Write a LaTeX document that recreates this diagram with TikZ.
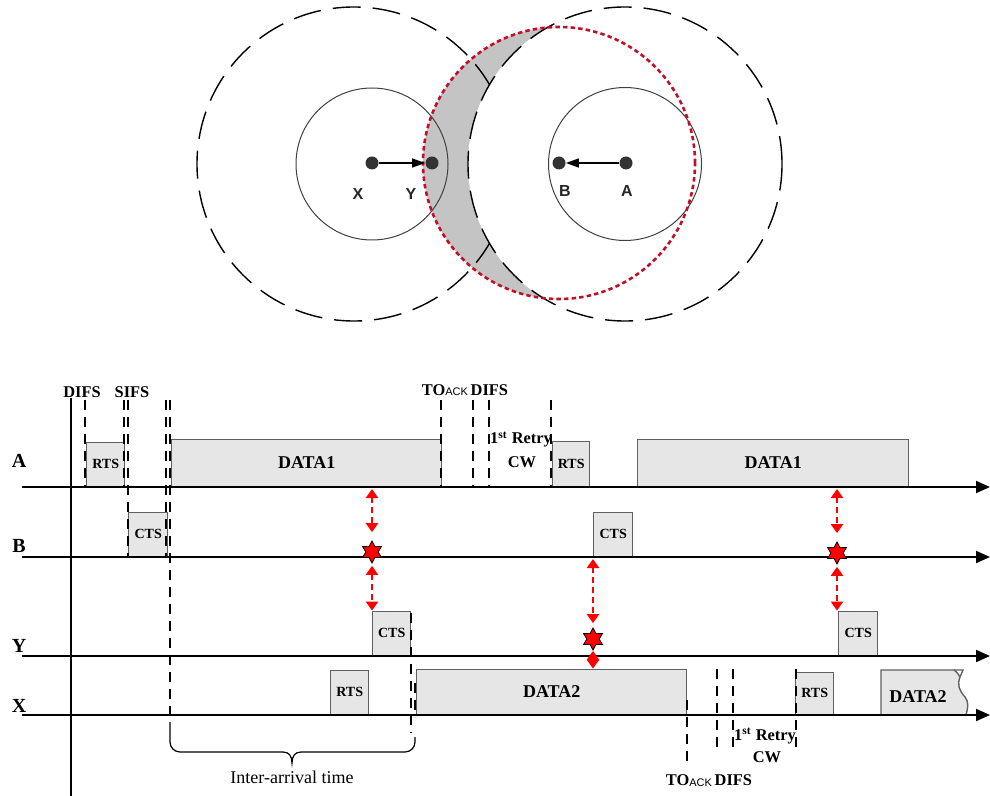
\documentclass[tikz,border=0pt]{standalone}
\usepackage{fontspec}
\setmainfont{Liberation Serif}
\setsansfont{Liberation Sans}
\usetikzlibrary{arrows.meta,shapes.geometric,calc}
\definecolor{pktfill}{RGB}{230,230,230}
\definecolor{pktline}{RGB}{96,96,96}
\definecolor{cresgray}{RGB}{196,196,196}
\definecolor{ringred}{RGB}{192,16,40}
\definecolor{nodedot}{RGB}{51,51,51}
\tikzset{
  pkt/.style    ={rectangle, draw=pktline, fill=pktfill, line width=0.7pt,
                  inner sep=0pt, anchor=south west,
                  font=\fontsize{7pt}{8pt}\selectfont\bfseries},
  datapkt/.style={pkt, font=\fontsize{9pt}{10pt}\selectfont\bfseries},
  axis/.style   ={-{Triangle[length=7pt,width=6pt]}, line width=1pt},
  gapline/.style={line width=1.25pt, dash pattern=on 5pt off 3.5pt},
  clash/.style  ={{Triangle[length=4.5pt,width=6pt]}-{Triangle[length=4.5pt,width=6pt]},
                  red, line width=1.4pt, dash pattern=on 3pt off 2pt},
  hit/.style    ={star, star points=6, star point ratio=1.8, fill=red, draw=black,
                  line width=0.4pt, minimum size=11pt, inner sep=0pt},
  stn/.style    ={circle, fill=nodedot, inner sep=0pt, minimum size=6.5pt},
  stnlbl/.style ={font=\fontsize{8pt}{9pt}\selectfont\sffamily\bfseries, text=black!85},
  rowlbl/.style ={font=\fontsize{10pt}{11pt}\selectfont\bfseries, anchor=base, inner sep=0pt},
  ifs/.style    ={font=\fontsize{8.2pt}{9pt}\selectfont\bfseries, anchor=base, inner sep=0pt},
  rangering/.style={line width=0.7pt, dash pattern=on 14pt off 6pt},
  link/.style   ={-{Triangle[length=6.5pt,width=4.5pt]}, line width=0.75pt}
}
\newcommand{\ackfont}{\fontsize{5.5pt}{6pt}\selectfont\sffamily\mdseries}

\begin{document}
\begin{tikzpicture}[x=0.5pt,y=-0.5pt]
\useasboundingbox (0,0) rectangle (990,796);

%% ---- Coverage circles ----------------------------------------------
\fill[cresgray] (559,163) circle[radius=68pt];
\draw[rangering] (354,164) circle[radius=78.5pt];
\draw[rangering, fill=white] (625,164) circle[radius=78.5pt];
\draw[line width=0.5pt, black!75] (372,164) circle[radius=38pt];
\draw[line width=0.5pt, black!75] (625,164) circle[radius=38.25pt];
\draw[ringred, line width=1.3pt, dash pattern=on 2.2pt off 1.6pt]
      (559,163) circle[radius=68pt];

\node[stn] (X) at (372,163) {};
\node[stn] (Y) at (432,163) {};
\node[stn] (B) at (559,163) {};
\node[stn] (A) at (626,163) {};
\draw[link] (X) -- (Y);
\draw[link] (A) -- (B);
\node[stnlbl] (lblX) at (358,194) {X};
\node[stnlbl] (lblY) at (411,194) {Y};
\node[stnlbl] (lblB) at (565,191) {B};
\node[stnlbl] (lblA) at (627,191) {A};

%% ---- Frames on the time lines --------------------------------------
\node[pkt, minimum width=19pt, minimum height=22pt] (rtsA1) at (86,487) {RTS};
\node[datapkt, minimum width=135pt, minimum height=23.5pt] (dataA1) at (171,487) {DATA1};
\node[pkt, minimum width=18.5pt, minimum height=22.5pt] (rtsA2) at (552,487) {RTS};
\node[datapkt, minimum width=135.5pt, minimum height=23.5pt] (dataA2) at (637,487) {DATA1};
\node[pkt, minimum width=19.5pt, minimum height=22pt] (ctsB1) at (128,557) {CTS};
\node[pkt, minimum width=19.5pt, minimum height=22pt] (ctsB2) at (593,557) {CTS};
\node[pkt, minimum width=19pt, minimum height=22pt] (ctsY1) at (372,656) {CTS};
\node[pkt, minimum width=19.5pt, minimum height=22pt] (ctsY2) at (838,656) {CTS};
\node[pkt, minimum width=19pt, minimum height=22pt] (rtsX1) at (330,715) {RTS};
\node[datapkt, minimum width=135pt, minimum height=22.5pt] (dataX1) at (416,715) {DATA2};
\node[pkt, minimum width=19pt, minimum height=21pt] (rtsX2) at (795,715) {RTS};
% torn frame at the right end
\draw[pktline, fill=pktfill, line width=0.7pt] (881,715) -- (881,670) -- (954,670)
      .. controls (957,672) and (959,675) .. (960,677)
      .. controls (957,685) and (959,690) .. (965,697)
      .. controls (969,702) and (968,708) .. (966,715) -- cycle;
\draw[pktline, line width=0.7pt] (954,670) -- (963,670) -- (960,677);
\node[font=\fontsize{9pt}{10pt}\selectfont\bfseries] (dataX2) at (918,697) {DATA2};

%% ---- Time lines ----------------------------------------------------
\coordinate (t0) at (71,398);
\coordinate (t1) at (71,796);
\draw[line width=0.75pt] (t0) -- (t1);
\foreach \nm/\yy/\yl in {A/487/467, B/557/552, Y/656/652, X/715/712} {
  \coordinate (ax\nm) at (22,\yy);
  \coordinate (ax\nm e) at (990,\yy);
  \draw[axis] (ax\nm) -- (ax\nm e);
  \node[rowlbl] (row\nm) at (19,\yl) {\nm};
}

%% ---- Interframe spaces ---------------------------------------------
\foreach \xx/\ya/\yb in {85/400/487, 124/400/487, 128/400/557, 166/400/557,
    170/400/720, 441/400/487, 473/400/487, 489/400/487, 551/400/487,
    411/613/733, 415/683/717, 687/700/762, 717/669/753, 733/669/753, 796/669/753}
  \draw[gapline] (\xx,\ya) -- (\xx,\yb);

\node[ifs] (difs1) at (82,398) {DIFS};
\node[ifs] (sifs1) at (132,398) {SIFS};
\node[ifs] (toack1) at (465,395) {TO\raisebox{-0.5pt}{\ackfont ACK}\,DIFS};
\node[ifs] (retry1) at (521,444) {1\textsuperscript{st} Retry};
\node[ifs] (cw1) at (522,467) {CW};
\node[ifs] (toack2) at (709,785) {TO\raisebox{-0.5pt}{\ackfont ACK}\,DIFS};
\node[ifs] (retry2) at (765,740) {1\textsuperscript{st} Retry};
\node[ifs] (cw2) at (767,762) {CW};

%% ---- Inter-arrival brace -------------------------------------------
\draw[line width=0.6pt] (170,722) -- (170,742)
      arc[start angle=180, end angle=270, radius=5pt] -- (283,752)
      .. controls (289,752) and (292,756) .. (292,763)
      .. controls (292,756) and (295,752) .. (301,752) -- (405,752)
      arc[start angle=270, end angle=360, radius=5pt] -- (415,737);
\node[font=\fontsize{9pt}{10pt}\selectfont, anchor=base] (iat) at (292,783)
      {Inter-arrival time};

%% ---- Collisions ----------------------------------------------------
\node[hit] (hit1) at (372,552) {};
\node[hit] (hit2) at (593,639) {};
\node[hit] (hit3) at (837,553) {};
\draw[clash, shorten <=1pt, shorten >=4pt] (dataA1.south -| hit1) -- (hit1.north);
\draw[clash, shorten <=1pt] (hit1.south) -- (ctsY1.north west);
\draw[clash, shorten <=1pt, shorten >=2pt] (ctsB2.south west) -- (hit2.north);
\draw[clash] (hit2.south) -- (dataX1.north -| hit2);
\draw[clash, shorten <=1pt, shorten >=4pt] (dataA2.south -| hit3) -- (hit3.north);
\draw[clash, shorten <=1pt] (hit3.south) -- (ctsY2.north -| hit3);
\end{tikzpicture}
\end{document}
